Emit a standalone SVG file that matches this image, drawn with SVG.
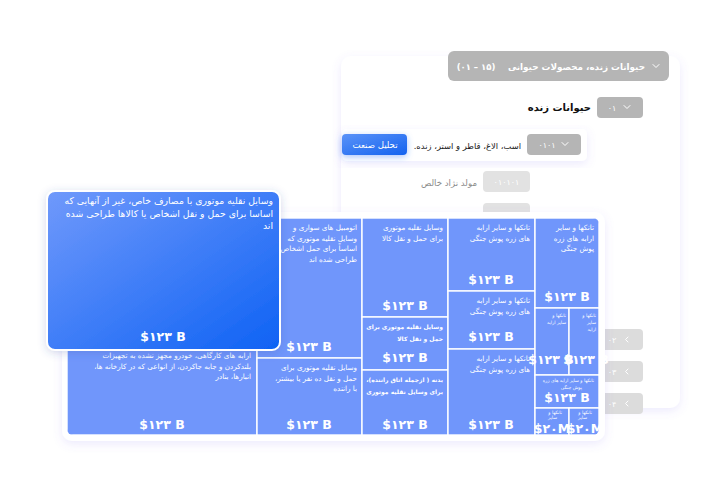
<svg xmlns="http://www.w3.org/2000/svg" width="720" height="480" viewBox="0 0 720 480">
<defs>
<filter id="sh" x="-10%" y="-10%" width="120%" height="130%">
<feDropShadow dx="0" dy="3" stdDeviation="5" flood-color="#7b6cf0" flood-opacity="0.14"/>
</filter>
<filter id="sh2" x="-10%" y="-10%" width="120%" height="130%">
<feDropShadow dx="0" dy="2" stdDeviation="4" flood-color="#3a4aa0" flood-opacity="0.22"/>
</filter>
<filter id="shb" x="-20%" y="-30%" width="140%" height="170%">
<feDropShadow dx="0" dy="2" stdDeviation="3" flood-color="#2f6df5" flood-opacity="0.4"/>
</filter>
<linearGradient id="gCard" x1="0" y1="0" x2="1" y2="1">
<stop offset="0" stop-color="#7099fb"/>
<stop offset="1" stop-color="#0e62f4"/>
</linearGradient>
<linearGradient id="gBtn" x1="0" y1="0" x2="1" y2="1">
<stop offset="0" stop-color="#5a93f8"/>
<stop offset="1" stop-color="#1462ef"/>
</linearGradient>
<clipPath id="tmClip"><rect x="67" y="218" width="532" height="217" rx="6"/></clipPath>
<style>
text{font-family:"DejaVu Sans",sans-serif}
.fa{text-anchor:end}
.w{fill:#ffffff}
.cell{fill:#7096fb;stroke:#ffffff;stroke-width:1.4}
.ct{fill:#ffffff;font-size:7.2px;text-anchor:end}
.cb{fill:#ffffff;font-size:6px;font-weight:bold;text-anchor:end}
.ctiny{fill:#ffffff;font-size:4.6px;text-anchor:end}
.val{fill:#ffffff;font-size:12.5px;font-weight:bold;text-anchor:middle}
.chev{fill:none;stroke:#ffffff;stroke-width:1;stroke-linecap:round;stroke-linejoin:round}
.gbtn{fill:#b5b5b5}
.lbtn{fill:#e2e2e2}
.sbtn{fill:#dcdcdc}
</style>
</defs>
<rect width="720" height="480" fill="#ffffff"/>

<!-- Back panel -->
<g id="panel">
<rect x="341" y="56" width="339" height="352" rx="10" fill="#ffffff" filter="url(#sh)"/>
</g>
<g id="header">
<rect x="448" y="51" width="221" height="30" rx="6" class="gbtn"/>
<text x="645" y="70" class="fa w" font-size="8.8" font-weight="bold">حیوانات زنده، محصولات حیوانی&#x200F;</text>
<path d="M653 64.5 l3 3 l3 -3" class="chev"/>
<text x="476" y="70" class="w" font-size="8.5" font-weight="bold" text-anchor="middle">(۰۱ – ۱۵)</text>
</g>
<g id="level1">
<rect x="597" y="97" width="46" height="21" rx="4" class="gbtn"/>
<text x="612" y="111" class="w" font-size="8" text-anchor="middle">۰۱</text>
<path d="M624 105.5 l3 3 l3 -3" class="chev"/>
<text x="591" y="110.5" class="fa" font-size="10" font-weight="bold" fill="#111111">حیوانات زنده</text>
</g>
<g id="level2">
<rect x="342" y="129" width="245" height="32" rx="5" fill="#ffffff" filter="url(#sh)"/>
<rect x="342" y="134" width="65" height="21" rx="4" fill="url(#gBtn)" filter="url(#shb)"/>
<text x="375" y="148" class="w" font-size="8.6" text-anchor="middle">تحلیل صنعت</text>
<text x="521" y="148.5" class="fa" font-size="8.4" fill="#1a1a1a">اسب، الاغ، قاطر و استر، زنده.&#x200F;</text>
<rect x="527" y="134" width="54" height="21" rx="4" class="gbtn"/>
<text x="547" y="148" class="w" font-size="8" text-anchor="middle">۰۱۰۱</text>
<path d="M562 142.5 l3 3 l3 -3" class="chev"/>
</g>
<g id="level3">
<rect x="483" y="171" width="47" height="21" rx="4" class="lbtn"/>
<text x="506.5" y="185" class="w" font-size="8" text-anchor="middle">۰۱۰۱۰۱</text>
<text x="477" y="185.5" class="fa" font-size="8.6" fill="#8a8a8a">مولد نژاد خالص</text>
<rect x="483" y="203" width="47" height="21" rx="4" class="lbtn"/>
<text x="506.5" y="217" class="w" font-size="8" text-anchor="middle">۰۱۰۱۰۱</text>
</g>
<g id="side-buttons">
<rect x="598" y="329" width="45" height="21" rx="4" class="sbtn"/>
<text x="612" y="343" class="w" font-size="8" text-anchor="middle">۰۲</text>
<path d="M628 337 l-2.5 2.5 l2.5 2.5" class="chev"/>
<rect x="598" y="361" width="45" height="21" rx="4" class="sbtn"/>
<text x="612" y="375" class="w" font-size="8" text-anchor="middle">۰۳</text>
<path d="M628 369 l-2.5 2.5 l2.5 2.5" class="chev"/>
<rect x="598" y="393" width="45" height="21" rx="4" class="sbtn"/>
<text x="612" y="407" class="w" font-size="8" text-anchor="middle">۰۴</text>
<path d="M628 401 l-2.5 2.5 l2.5 2.5" class="chev"/>
</g>

<!-- Treemap card -->
<g id="treemap-card">
<rect x="62" y="212" width="543" height="229" rx="10" fill="#ffffff" filter="url(#sh)"/>
</g>
<g id="treemap" clip-path="url(#tmClip)">
<g id="cell-special">
<rect x="67" y="218" width="190" height="128" class="cell"/>
</g>
<g id="cell-workshop">
<rect x="67" y="346" width="190" height="89" class="cell"/>
<text x="251" y="358" class="ct">ارابه های کارگاهی، خودرو مجهز نشده به تجهیزات</text>
<text x="251" y="368.5" class="ct">بلندکردن و جابه جاکردن، از انواعی که در کارخانه ها،&#x200F;</text>
<text x="251" y="379" class="ct">انبارها، بنادر</text>
<text x="162" y="429" class="val">$۱۲۳ B</text>
</g>
<g id="cell-cars">
<rect x="257" y="218" width="105" height="140" class="cell"/>
<text x="357" y="230" class="ct">اتومبیل های سواری و</text>
<text x="357" y="240.5" class="ct">وسایل نقلیه موتوری که</text>
<text x="357" y="251" class="ct">اساساً برای حمل اشخاص</text>
<text x="357" y="261.5" class="ct">طراحی شده اند</text>
<text x="309" y="351" class="val">$۱۲۳ B</text>
</g>
<g id="cell-bus">
<rect x="257" y="358" width="105" height="77" class="cell"/>
<text x="357" y="370" class="ct">وسایل نقلیه موتوری برای</text>
<text x="357" y="380.5" class="ct">حمل و نقل ده نفر یا بیشتر،&#x200F;</text>
<text x="357" y="391" class="ct">با راننده</text>
<text x="309" y="429" class="val">$۱۲۳ B</text>
</g>
<g id="cell-goods1">
<rect x="362" y="218" width="86" height="99" class="cell"/>
<text x="443" y="230" class="ct">وسایل نقلیه موتوری</text>
<text x="443" y="240.5" class="ct">برای حمل و نقل کالا</text>
<text x="405" y="310" class="val">$۱۲۳ B</text>
</g>
<g id="cell-goods2">
<rect x="362" y="317" width="86" height="53" class="cell"/>
<text x="443" y="329" class="cb">وسایل نقلیه موتوری برای</text>
<text x="443" y="341" class="cb">حمل و نقل کالا</text>
<text x="405" y="362" class="val">$۱۲۳ B</text>
</g>
<g id="cell-body">
<rect x="362" y="370" width="86" height="65" class="cell"/>
<text x="443" y="382" class="cb">بدنه ( ازجمله اتاق راننده)،&#x200F;</text>
<text x="443" y="394" class="cb">برای وسایل نقلیه موتوری</text>
<text x="405" y="429" class="val">$۱۲۳ B</text>
</g>
<g id="cell-tank1">
<rect x="448" y="218" width="87" height="73" class="cell"/>
<text x="530" y="230" class="ct">تانکها و سایر ارابه</text>
<text x="530" y="240.5" class="ct">های زره پوش جنگی</text>
<text x="491" y="284" class="val">$۱۲۳ B</text>
</g>
<g id="cell-tank2">
<rect x="448" y="291" width="87" height="58" class="cell"/>
<text x="530" y="303" class="ct">تانکها و سایر ارابه</text>
<text x="530" y="313.5" class="ct">های زره پوش جنگی</text>
<text x="491" y="341" class="val">$۱۲۳ B</text>
</g>
<g id="cell-tank3">
<rect x="448" y="349" width="87" height="86" class="cell"/>
<text x="530" y="361" class="ct">تانکها و سایر ارابه</text>
<text x="530" y="371.5" class="ct">های زره پوش جنگی</text>
<text x="491" y="429" class="val">$۱۲۳ B</text>
</g>
<g id="cell-tank4">
<rect x="535" y="218" width="64" height="90" class="cell"/>
<text x="594" y="230" class="ct">تانکها و سایر</text>
<text x="594" y="240.5" class="ct">ارابه های زره</text>
<text x="594" y="251" class="ct">پوش جنگی</text>
<text x="567" y="301" class="val">$۱۲۳ B</text>
</g>
<g id="cell-tank5">
<rect x="535" y="308" width="34" height="67" class="cell"/>
<text x="566" y="317" class="ctiny">تانکها و</text>
<text x="566" y="324" class="ctiny">سایر ارابه</text>
</g>
<g id="cell-tank6">
<rect x="569" y="308" width="30" height="67" class="cell"/>
<text x="596" y="317" class="ctiny">تانکها و</text>
<text x="596" y="324" class="ctiny">سایر</text>
<text x="596" y="331" class="ctiny">ارابه</text>
</g>
<g id="cell-tank7">
<rect x="535" y="375" width="64" height="33" class="cell"/>
<text x="594" y="382" class="ctiny">تانکها و سایر ارابه های زره</text>
<text x="582" y="388.5" class="ctiny">پوش جنگی</text>
<text x="567" y="402" class="val" font-size="9.5">$۱۲۳ B</text>
</g>
<g id="cell-tank8">
<rect x="535" y="408" width="34" height="27" class="cell"/>
<text x="562" y="413.5" class="ctiny">تانکها و</text>
<text x="557" y="419" class="ctiny">سایر</text>
<text x="552" y="432.5" class="val" font-size="5.8">$۲۰M</text>
</g>
<g id="cell-tank9">
<rect x="569" y="408" width="30" height="27" class="cell"/>
<text x="592" y="413.5" class="ctiny">تانکها و</text>
<text x="587" y="419" class="ctiny">سایر</text>
<text x="585" y="432.5" class="val" font-size="5.8">$۲۰M</text>
</g>
</g>
<g id="overflow-values">
<text x="551" y="364" class="val" font-size="8.8">$۱۲۳ B</text>
<text x="586" y="364" class="val" font-size="8.8">$۱۲۳ B</text>
</g>

<!-- Floating highlighted card -->
<g id="hover-card">
<rect x="47" y="191" width="233" height="159" rx="8" fill="url(#gCard)" stroke="#ffffff" stroke-width="2" filter="url(#sh2)"/>
<text x="273" y="204" class="fa w" font-size="9.3">وسایل نقلیه موتوری با مصارف خاص، غیر از آنهایی که</text>
<text x="273" y="216.5" class="fa w" font-size="9.3">اساسا برای حمل و نقل اشخاص یا کالاها طراحی شده</text>
<text x="273" y="229" class="fa w" font-size="9.3">اند</text>
<text x="163" y="341" class="val" font-size="15">$۱۲۳ B</text>
</g>
</svg>
